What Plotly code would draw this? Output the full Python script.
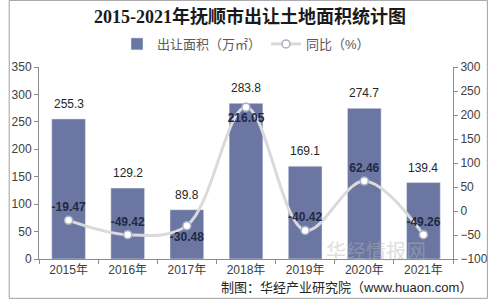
import plotly.graph_objects as go

years = ["2015年", "2016年", "2017年", "2018年", "2019年", "2020年", "2021年"]
area = [255.3, 129.2, 89.8, 283.8, 169.1, 274.7, 139.4]
yoy = [-19.47, -49.42, -30.48, 216.05, -40.42, 62.46, -49.26]
yoy_pos = ["top center", "top center", "bottom center", "bottom center",
           "top center", "top center", "top center"]

font_cn = "Liberation Sans, Noto Sans CJK SC, sans-serif"

fig = go.Figure()
fig.add_trace(go.Bar(
    x=years, y=area, name="出让面积（万㎡）",
    marker=dict(color="#6b77a2"), width=0.57,
))
fig.add_trace(go.Scatter(
    x=years, y=yoy, name="同比（%）", yaxis="y2",
    mode="lines+markers+text",
    line=dict(color="#dadada", width=3, shape="spline", smoothing=1.0),
    marker=dict(size=8, color="white", line=dict(color="#a9afc9", width=1.5)),
    text=[f"<b>{v:.2f}</b>" for v in yoy], textposition=yoy_pos,
    textfont=dict(size=12, color="#1f2a44", family="Liberation Sans, sans-serif"),
    cliponaxis=False,
))

for x, v in zip(years, area):
    fig.add_annotation(x=x, y=v, xref="x", yref="y", text=f"{v:.1f}",
                       showarrow=False, yanchor="bottom", yshift=6,
                       font=dict(size=12, color="#262626", family=font_cn))

fig.update_layout(
    width=500, height=300,
    margin=dict(l=32, r=38, t=67, b=41),
    paper_bgcolor="white", plot_bgcolor="white",
    title=dict(text="<b>2015-2021年抚顺市出让土地面积统计图</b>",
               x=0.5, xanchor="center", y=0.943, yanchor="middle",
               font=dict(size=18, color="#1a1a1a",
                         family="Liberation Serif, Noto Sans CJK SC, serif")),
    legend=dict(orientation="h", x=0.5, xanchor="center", y=1.12, yanchor="middle",
                font=dict(size=13, color="#595959", family=font_cn),
                itemwidth=30, bgcolor="rgba(0,0,0,0)"),
    xaxis=dict(showline=True, linecolor="#8c8c8c", ticks="outside",
               tickson="boundaries", ticklen=4, tickcolor="#8c8c8c",
               tickfont=dict(size=12, color="#404040", family=font_cn)),
    yaxis=dict(range=[0, 350], dtick=50, showgrid=False, zeroline=False,
               showline=True, linecolor="#8c8c8c", ticks="outside", ticklen=4,
               tickcolor="#8c8c8c",
               tickfont=dict(size=12, color="#404040", family=font_cn)),
    yaxis2=dict(range=[-100, 300], dtick=50, overlaying="y", side="right",
                showgrid=False, zeroline=False, showline=True,
                linecolor="#8c8c8c", ticks="outside", ticklen=4,
                tickcolor="#8c8c8c",
                tickfont=dict(size=12, color="#404040", family=font_cn)),
    showlegend=True,
)

fig.add_annotation(text="华经情报网", xref="paper", yref="paper",
                   x=0.94, y=-0.04, showarrow=False,
                   font=dict(size=20, color="rgba(180,180,180,0.45)",
                             family="Noto Sans CJK SC"))
fig.add_annotation(text="制图：华经产业研究院（www.huaon.com）", xref="paper", yref="paper",
                   x=1.051, xanchor="right", y=-0.151, yanchor="middle", showarrow=False,
                   font=dict(size=13, color="#262626", family=font_cn))

fig.add_shape(type="rect", xref="paper", yref="paper", x0=-0.072, x1=1.083,
              y0=-0.205, y1=1.347, line=dict(color="#a0a0a0", width=1))

fig.write_html("out.html")
